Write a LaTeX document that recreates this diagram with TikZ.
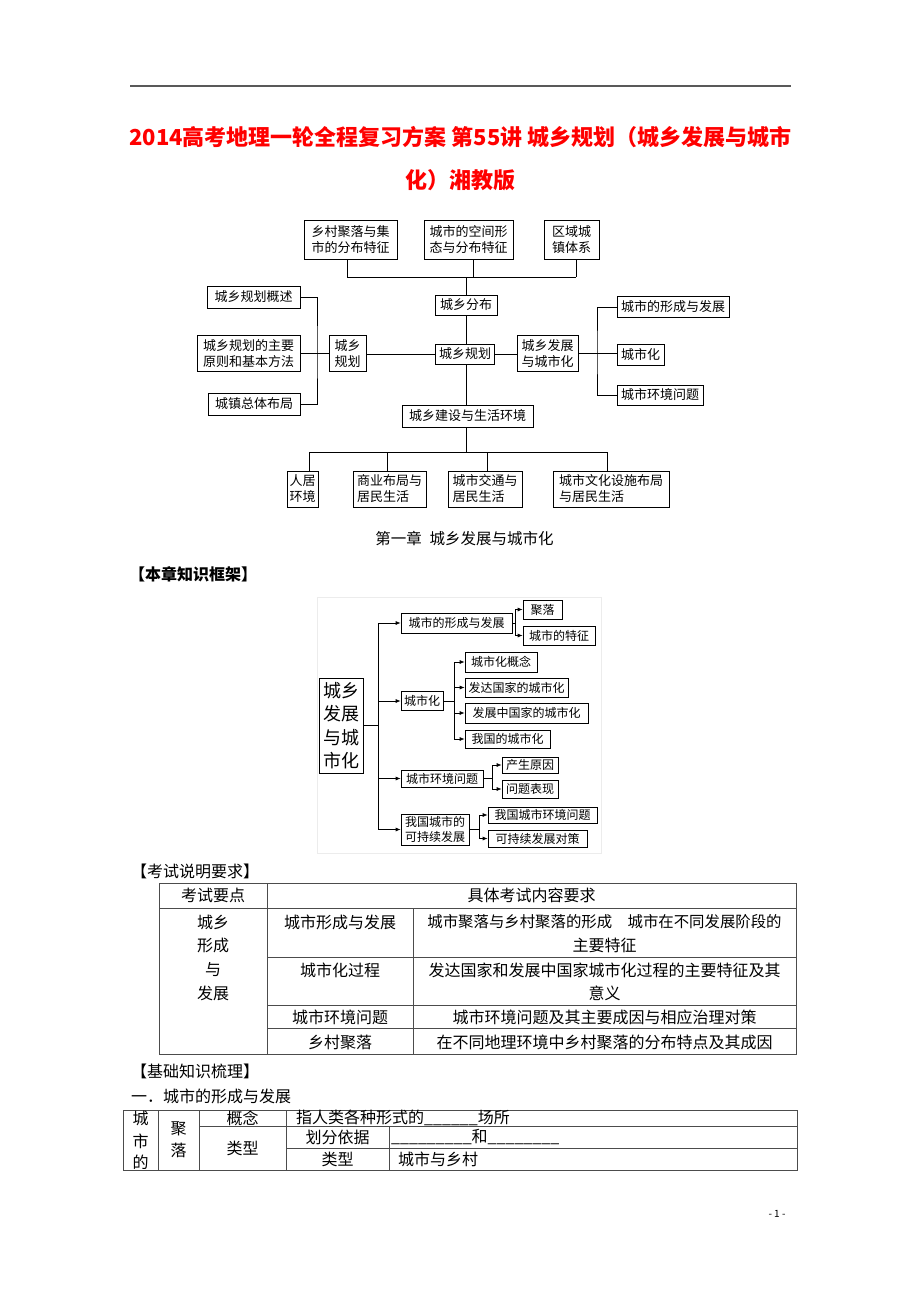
\documentclass[tikz,border=0pt]{standalone}
\usepackage{fontspec}
\setmainfont{Noto Sans CJK SC}
\usetikzlibrary{arrows.meta,positioning,calc,shadows}
\def \boxFont {\fontsize{13}{16}\selectfont}
\def \treeFont {\fontsize{12}{15}\selectfont}
\def \tableFont {\fontsize{16}{19}\selectfont}
\def \titleFont {\fontsize{22}{26}\selectfont\bfseries}
\tikzset{
	block/.style= {draw, rectangle, fill=white, inner sep=0pt, align=left, font=\boxFont, line width=0.7pt, general shadow={fill=black!65, shadow xshift=0.9pt, shadow yshift=-0.9pt}},
	treeblock/.style= {block, font=\treeFont},
	rootblock/.style= {block, align=center, font=\fontsize{18}{23.5}\selectfont},
	link/.style= {line width=0.7pt},
	arrowlink/.style= {line width=0.7pt, -{Latex[length=5pt,width=4pt]}},
	titletext/.style= {inner sep=0pt, text=red, font=\titleFont},
	celltext/.style= {inner sep=0pt, font=\tableFont},
	headtext/.style= {inner sep=0pt, anchor=west, font=\tableFont},
	gridline/.style= {line width=0.9pt, draw=black!70}
}

\begin{document}
\begin{tikzpicture}[x=1pt,y=-1pt]
	\fill[white] (0,0) rectangle (920,1302);
	\useasboundingbox (0,0) rectangle (920,1302);

%%%%%%%%%%%%%%%%%%%%% Header %%%%%%%%%%%%%%%%%%%%%
	\draw[line width=1.6pt, draw=black!65] (130,86) -- (791,86);
	\node [titletext] (T1) at (460.5,137) {2014高考地理一轮全程复习方案 第55讲 城乡规划（城乡发展与城市};
	\node [titletext] (T2) at (460.5,180) {化）湘教版};

%%%%%%%%%%%%%%%%%%%%% Nodes %%%%%%%%%%%%%%%%%%%%%
	\node [block, minimum width=93, minimum height=39] (dA) at (350.5,239.5) {乡村聚落与集\\市的分布特征};
	\node [block, minimum width=89, minimum height=39] (dB) at (468.5,239.5) {城市的空间形\\态与分布特征};
	\node [block, minimum width=55, minimum height=39] (dC) at (571.5,239.5) {区域城\\镇体系};
	\node [block, minimum width=62, minimum height=20] (dist) at (466,305) {城乡分布};

	\node [block, minimum width=59, minimum height=20] (plan) at (465,354) {城乡规划};
	\node [block, minimum width=37, minimum height=36] (lplan) at (347.5,353.5) {城乡\\规划};
	\node [block, minimum width=61, minimum height=36] (dev) at (547.5,353.5) {城乡发展\\与城市化};

	\node [block, minimum width=93, minimum height=22] (L1) at (253.5,297) {城乡规划概述};
	\node [block, minimum width=103, minimum height=36] (L2) at (248.5,353.5) {城乡规划的主要\\原则和基本方法};
	\node [block, minimum width=92, minimum height=22] (L3) at (254,404) {城镇总体布局};

	\node [block, minimum width=112, minimum height=21] (R1) at (673,307) {城市的形成与发展};
	\node [block, minimum width=47, minimum height=21] (R2) at (640.5,354.5) {城市化};
	\node [block, minimum width=86, minimum height=20] (R3) at (660,395) {城市环境问题};

	\node [block, minimum width=131, minimum height=22] (build) at (467.5,416) {城乡建设与生活环境};

	\node [block, minimum width=31, minimum height=36] (B1) at (302.5,489) {人居\\环境};
	\node [block, minimum width=73, minimum height=36] (B2) at (389.5,489) {商业布局与\\居民生活};
	\node [block, minimum width=74, minimum height=36] (B3) at (485,489) {城市交通与\\居民生活};
	\node [block, minimum width=116, minimum height=36] (B4) at (611,489) {城市文化设施布局\\与居民生活};

%%%%%%%%%%%%%%%%%%%%% Links %%%%%%%%%%%%%%%%%%%%%
	\coordinate (topbar) at (466,277);
	\draw[link] ($(dA.south |- topbar)+(-3.5,0)$) -- ($(dC.south |- topbar)+(4.5,0)$);
	\foreach \n/\dx in {dA/-3.5,dB/4.5,dC/4.5}
		\draw[link] ($(\n.south)+(\dx,0)$) -- ($(\n.south |- topbar)+(\dx,0)$);
	\draw[link] (topbar) -- (dist.north);
	\draw[link] (dist.south) -- (dist.south |- plan.north);

	\coordinate (lbrace) at (317,353.5);
	\draw[link] (L1.east) -| (lbrace) |- (L3.east);
	\draw[link] (L2.east) -- (lplan.west);
	\draw[link] (plan.west -| lplan.east) -- (plan.west);
	\draw[link] (plan.east) -- (plan.east -| dev.west);

	\coordinate (rbrace) at (597,353.5);
	\draw[link] (R1.west) -| (rbrace) |- (R3.west);
	\draw[link] (dev.east) -- (dev.east -| R2.west);

	\coordinate (botbar) at (466,452);
	\draw[link] (plan.south -| dist.south) -- (build.north -| dist.south);
	\draw[link] (build.south -| botbar) -- (botbar);
	\draw[link] ($(B1.north |- botbar)+(6.5,0)$) -- ($(B4.north |- botbar)+(-4,0)$);
	\foreach \n/\dx in {B1/6.5,B2/-2.5,B3/2,B4/-4}
		\draw[link] ($(\n.north)+(\dx,0)$) -- ($(\n.north |- botbar)+(\dx,0)$);

	\node [inner sep=0pt, font=\fontsize{15.5}{18}\selectfont] (cap) at (464.5,539) {第一章\enspace 城乡发展与城市化};
	\node [headtext, font=\fontsize{16}{19}\selectfont\bfseries] (frameHead) at (129,574) {【本章知识框架】};

%%%%%%%%%%%%%%%%%%%%% Framework tree %%%%%%%%%%%%%%%%%%%%%
	\draw[gray!15, line width=0.6pt] (317,597) rectangle (601,853);
	\node [rootblock, minimum width=44, minimum height=95] (root) at (341,725.5) {城乡\\发展\\与城\\市化};

	\node [treeblock, minimum width=111, minimum height=20] (n1) at (456.5,623) {城市的形成与发展};
	\node [treeblock, minimum width=42, minimum height=19] (n2) at (422,701) {城市化};
	\node [treeblock, minimum width=82, minimum height=17] (n3) at (442,778.5) {城市环境问题};
	\node [treeblock, minimum width=68, minimum height=31] (n4) at (435,829.5) {我国城市的\\可持续发展};

	\node [treeblock, minimum width=39, minimum height=19] (n11) at (542.5,609.5) {聚落};
	\node [treeblock, minimum width=72, minimum height=19] (n12) at (559,635.5) {城市的特征};
	\node [treeblock, minimum width=72, minimum height=20] (n21) at (501,662) {城市化概念};
	\node [treeblock, minimum width=103, minimum height=19] (n22) at (516.5,687.5) {发达国家的城市化};
	\node [treeblock, minimum width=123, minimum height=20] (n23) at (526.5,713) {发展中国家的城市化};
	\node [treeblock, minimum width=85, minimum height=18] (n24) at (507.5,739) {我国的城市化};
	\node [treeblock, minimum width=56, minimum height=16] (n31) at (530,765) {产生原因};
	\node [treeblock, minimum width=56, minimum height=18] (n32) at (530,789) {问题表现};
	\node [treeblock, minimum width=109, minimum height=16] (n41) at (542.5,815) {我国城市环境问题};
	\node [treeblock, minimum width=99, minimum height=17] (n42) at (537.5,838.5) {可持续发展对策};

	\coordinate (rootjoin) at (378,726);
	\draw[link] (root.east) -- (root.east -| rootjoin);
	\draw[link] (rootjoin |- n1.west) -- (rootjoin |- n4.west);
	\foreach \n in {n1,n2,n3,n4}
		\draw[arrowlink] (rootjoin |- \n.west) -- (\n.west);
	\foreach \p/\dx/\a/\b in {n1/3/n11/n12, n2/11/n21/n24, n3/9/n31/n32, n4/10/n41/n42} {
		\draw[link] (\p.east) -- ++(\dx,0) coordinate (j\p);
		\draw[link] (j\p |- \a.west) -- (j\p |- \b.west);
	}
	\foreach \p/\c in {n1/n11, n1/n12, n2/n21, n2/n22, n2/n23, n2/n24, n3/n31, n3/n32, n4/n41, n4/n42}
		\draw[arrowlink] (j\p |- \c.west) -- (\c.west);

%%%%%%%%%%%%%%%%%%%%% Exam table %%%%%%%%%%%%%%%%%%%%%
	\node [headtext] (examHead) at (131,871) {【考试说明要求】};
	\draw[gridline] (159,883) rectangle (796,1054);
	\draw[gridline] (159,908) -- (796,908);
	\draw[gridline] (267,883) -- (267,1054);
	\draw[gridline] (413,908) -- (413,1054);
	\foreach \y in {957,1005,1028}
		\draw[gridline] (267,\y) -- (796,\y);

	\node [celltext] (h1) at (213,895.5) {考试要点};
	\node [celltext] (h2) at (531.5,895.5) {具体考试内容要求};
	\node [celltext] (k1) at (213,922) {城乡};
	\node [celltext] (k2) at (213,945) {形成};
	\node [celltext] (k3) at (213,970) {与};
	\node [celltext] (k4) at (213,993) {发展};
	\node [celltext] (c1) at (340,922) {城市形成与发展};
	\node [celltext] (c2) at (340,970) {城市化过程};
	\node [celltext] (c3) at (340,1017) {城市环境问题};
	\node [celltext] (c4) at (340,1042) {乡村聚落};
	\node [celltext, font=\fontsize{15.4}{18}\selectfont] (r1a) at (604.5,922) {城市聚落与乡村聚落的形成　城市在不同发展阶段的};
	\node [celltext] (r1b) at (604.5,945) {主要特征};
	\node [celltext] (r2a) at (604.5,970) {发达国家和发展中国家城市化过程的主要特征及其};
	\node [celltext] (r2b) at (604.5,993) {意义};
	\node [celltext] (r3) at (604.5,1017) {城市环境问题及其主要成因与相应治理对策};
	\node [celltext] (r4) at (604.5,1042) {在不同地理环境中乡村聚落的分布特点及其成因};

%%%%%%%%%%%%%%%%%%%%% Basics table %%%%%%%%%%%%%%%%%%%%%
	\node [headtext] (baseHead) at (131,1071) {【基础知识梳理】};
	\node [headtext] (secHead) at (131,1096) {一．城市的形成与发展};
	\draw[gridline] (123,1110) rectangle (797,1170);
	\draw[gridline] (158,1110) -- (158,1170);
	\draw[gridline] (199,1110) -- (199,1170);
	\draw[gridline] (286,1110) -- (286,1170);
	\draw[gridline] (389,1126) -- (389,1170);
	\draw[gridline] (199,1126) -- (797,1126);
	\draw[gridline] (286,1148) -- (797,1148);

	\node [celltext] (s1) at (140.5,1118) {城};
	\node [celltext] (s2) at (140.5,1141) {市};
	\node [celltext] (s3) at (140.5,1162) {的};
	\node [celltext] (j1) at (178.5,1129) {聚};
	\node [celltext] (j2) at (178.5,1150) {落};
	\node [celltext] (g1) at (242.5,1118) {概念};
	\node [celltext] (g2) at (242.5,1148) {类型};
	\node [headtext] (g1t) at (296,1118) {指人类各种形式的\_\_\_\_\_\_场所};
	\node [celltext] (g3) at (337.5,1137) {划分依据};
	\node [headtext] (g3t) at (391,1137) {\_\_\_\_\_\_\_\_\_和\_\_\_\_\_\_\_\_};
	\node [celltext] (g4) at (337.5,1159) {类型};
	\node [headtext] (g4t) at (398,1159) {城市与乡村};

	\node [inner sep=0pt, font=\fontsize{10}{12}\selectfont] (pageNo) at (777,1214) {- 1 -};

\end{tikzpicture}
\end{document}
